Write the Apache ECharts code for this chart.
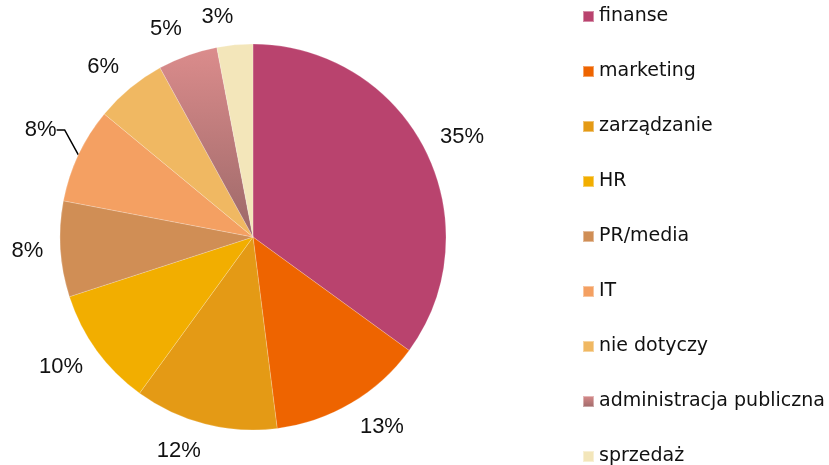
<!DOCTYPE html>
<html>
<head>
<meta charset="utf-8">
<script src="https://cdn.jsdelivr.net/npm/echarts@6/dist/echarts.min.js"></script>
<style>
  html, body { margin: 0; padding: 0; background: #fff; }
  #chart { width: 829px; height: 465px; }
</style>
</head>
<body>
<div id="chart"></div>
<script>
// kategorie i udziały (%)
var categories = ["finanse", "marketing", "zarządzanie", "HR", "PR/media", "IT", "nie dotyczy", "administracja publiczna", "sprzedaż"];
var values = [35, 13, 12, 10, 8, 8, 6, 5, 3];
var colors = ["#B9436E", "#EE6400", "#E49A15", "#F2AE00", "#D08E55", "#F4A062", "#F0B862", null, "#F3E6BA"];

var adminGradient = new echarts.graphic.LinearGradient(0, 0, 0, 1, [
  { offset: 0, color: "#DB8C8C" },
  { offset: 1, color: "#9C6868" }
]);

var cx = 253, cy = 237, R = 193;
var total = values.reduce(function (a, b) { return a + b; }, 0);

// środkowy kąt wycinka (od góry, zgodnie z ruchem wskazówek zegara)
function midAngle(i) {
  var before = 0;
  for (var k = 0; k < i; k++) before += values[k];
  return (before + values[i] / 2) / total * Math.PI * 2;
}

var chart = echarts.init(document.getElementById("chart"));

var data = categories.map(function (name, i) {
  var item = {
    name: name,
    value: values[i],
    itemStyle: { color: colors[i] || adminGradient }
  };
  if (name === "IT") {
    item.labelLine = { show: true, lineStyle: { color: "#000", width: 1.5 } };
  }
  return item;
});

chart.setOption({
  animation: false,
  textStyle: { fontFamily: "DejaVu Sans" },
  legend: {
    orient: "vertical",
    left: 582,
    top: 7,
    height: 480,
    padding: 0,
    icon: "rect",
    itemWidth: 11,
    itemHeight: 11,
    itemGap: 36,
    selectedMode: false,
    textStyle: { fontSize: 19, color: "#111", lineHeight: 18 },
    data: categories
  },
  series: [
    {
      type: "pie",
      center: [cx, cy],
      radius: [0, R],
      startAngle: 90,
      clockwise: true,
      avoidLabelOverlap: false,
      data: data,
      itemStyle: { borderColor: "rgba(255,255,255,0.4)", borderWidth: 0.5 },
      label: {
        show: true,
        position: "outside",
        formatter: "{c}%",
        fontFamily: "'Liberation Sans'",
        fontSize: 22,
        color: "#111"
      },
      labelLine: { show: false, length: 14, length2: 8 },
      labelLayout: function (p) {
        var a = midAngle(p.dataIndex);
        var ux = Math.sin(a), uy = -Math.cos(a);
        var moved = categories[p.dataIndex] === "IT";
        var gap = moved ? 24 : 17;
        var hw = p.labelRect.width / 2, hh = p.labelRect.height / 2;
        return {
          x: cx + ux * (R + gap) + (ux < 0 ? -hw : hw),
          y: cy + uy * (R + gap) + uy * hh - (moved ? 10 : 0),
          align: "center",
          verticalAlign: "middle",
          hideOverlap: false
        };
      }
    }
  ]
});
</script>
</body>
</html>
